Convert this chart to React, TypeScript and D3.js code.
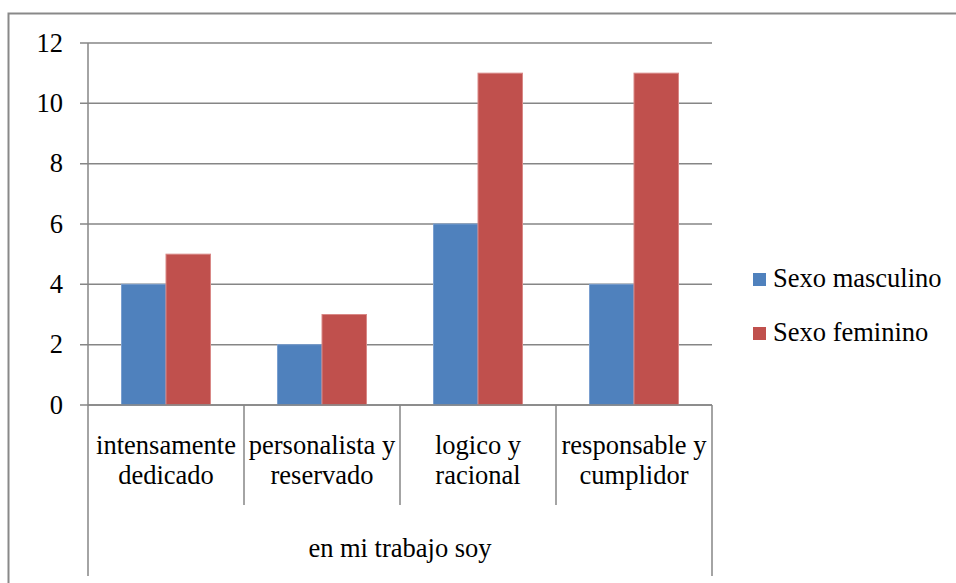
import React from "react";
import * as d3 from "d3";

const categories: string[][] = [
  ["intensamente", "dedicado"],
  ["personalista y", "reservado"],
  ["logico y", "racional"],
  ["responsable y", "cumplidor"],
];
const groupLabel = "en mi trabajo soy";
const seriesNames = ["Sexo masculino", "Sexo feminino"];
const masculino = [4, 2, 6, 4];
const femenino = [5, 3, 11, 11];
const yTicks = [0, 2, 4, 6, 8, 10, 12];
const colors = ["#4F81BD", "#C0504D"];
const strokeColors = ["#7a9fd0", "#d98886"];

const FONT = "Liberation Serif, Tinos, Times New Roman, Times, DejaVu Serif, serif";
const GRID = "#868686";

export default function App() {
  const W = 956, H = 583;
  const left = 88, right = 712, top = 43, bottom = 405;
  const x0 = d3.scaleBand<number>().domain(d3.range(categories.length)).range([left, right]).padding(0);
  const x1 = d3.scaleBand<number>().domain([0, 1]).range([0, x0.bandwidth()]).paddingInner(0).paddingOuter(0.753);
  const y = d3.scaleLinear().domain([0, 12]).range([bottom, top]);
  const series = [masculino, femenino];

  return (
    <svg width={W} height={H} style={{ position: "absolute", left: 0, top: 0, display: "block", background: "#fff", fontFamily: FONT }}>
      <rect x={8.5} y={13.5} width={W + 20} height={H + 20} fill="#fff" stroke="#898989" strokeWidth={2} />
      {yTicks.map((t) => (
        <g key={t}>
          <line x1={80} x2={right} y1={y(t)} y2={y(t)} stroke={GRID} strokeWidth={1.5} />
          <text x={63} y={y(t) + 8.5} textAnchor="end" style={{ fontFamily: FONT }} fontSize={26.5} fill="#000">
            {t}
          </text>
        </g>
      ))}
      {categories.map((_, i) =>
        series.map((s, j) => (
          <rect
            key={`${i}-${j}`}
            x={(x0(i) as number) + (x1(j) as number)}
            y={y(s[i])}
            width={x1.bandwidth()}
            height={y(0) - y(s[i])}
            fill={colors[j]}
            stroke={strokeColors[j]}
            strokeWidth={1}
          />
        ))
      )}
      <line x1={left} x2={left} y1={top} y2={576} stroke={GRID} strokeWidth={1.5} />
      <line x1={left} x2={right} y1={bottom} y2={bottom} stroke={GRID} strokeWidth={1.5} />
      <line x1={right} x2={right} y1={bottom} y2={576} stroke={GRID} strokeWidth={1.5} />
      {categories.slice(1).map((_, i) => (
        <line key={i} x1={x0(i + 1) as number} x2={x0(i + 1) as number} y1={bottom} y2={505} stroke={GRID} strokeWidth={1.5} />
      ))}
      {categories.map((lines, i) => (
        <text key={i} textAnchor="middle" style={{ fontFamily: FONT }} fontSize={26.5} fill="#000">
          {lines.map((l, k) => (
            <tspan key={k} x={(x0(i) as number) + x0.bandwidth() / 2} y={454 + k * 30}>
              {l}
            </tspan>
          ))}
        </text>
      ))}
      <text x={(left + right) / 2} y={557} textAnchor="middle" style={{ fontFamily: FONT }} fontSize={26.5} fill="#000">
        {groupLabel}
      </text>
      {seriesNames.map((n, j) => (
        <g key={n}>
          <rect x={753} y={273 + j * 54} width={13} height={13} fill={colors[j]} />
          <text x={773} y={287 + j * 54} style={{ fontFamily: FONT }} fontSize={26.5} fill="#000">
            {n}
          </text>
        </g>
      ))}
    </svg>
  );
}
